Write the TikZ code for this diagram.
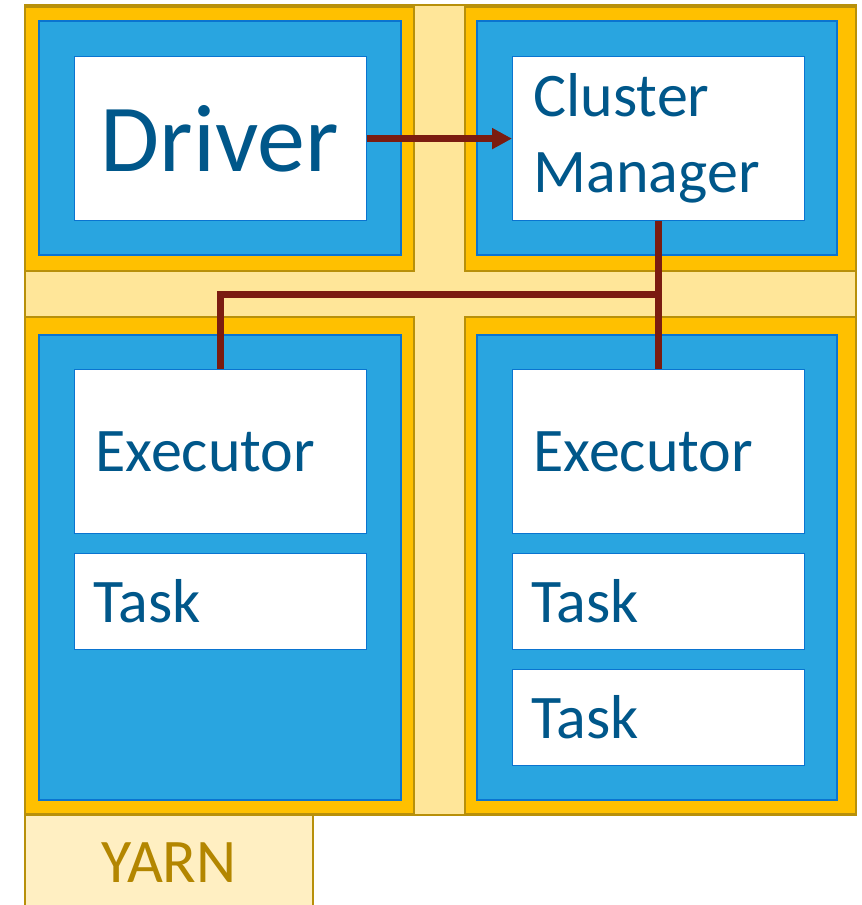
\documentclass[tikz,border=0pt]{standalone}
\usepackage{fontspec}
\setmainfont{Carlito}
\usetikzlibrary{arrows.meta}
\definecolor{hostgold}{HTML}{FFC000}
\definecolor{yarncream}{HTML}{FFE699}
\definecolor{tabcream}{HTML}{FFEFC2}
\definecolor{goldline}{HTML}{B8900A}
\definecolor{jvmblue}{HTML}{29A5E0}
\definecolor{jvmline}{HTML}{0A74D0}
\definecolor{labelblue}{HTML}{00578A}
\definecolor{linkred}{HTML}{7B1C10}
\definecolor{yarntext}{HTML}{B38600}
\tikzset{
  host/.style={fill=hostgold,draw=goldline,line width=1.2pt},
  jvm/.style={fill=jvmblue,draw=jvmline,line width=1.2pt},
  proc/.style={draw=jvmline,fill=white,line width=1.2pt,anchor=north west,
    text width=250pt,inner xsep=21pt,inner ysep=0pt,align=left,
    text=labelblue,font=\fontsize{62}{76}\selectfont},
  link/.style={draw=linkred,line width=7pt},
}
\begin{document}
\begin{tikzpicture}[x=1pt,y=-1pt]
	\useasboundingbox (0,0) rectangle (862,905);
	% yarn layer
	\filldraw [fill=yarncream,draw=goldline,line width=1.2pt] (25,5) rectangle (856,815);
	\filldraw [fill=tabcream,draw=goldline,line width=1.2pt] (25,815) rectangle (313,906);
	\node [text=yarntext,font=\fontsize{62}{76}\selectfont,anchor=base] (yarn) at (169,882) {YARN};
	% hosts and jvms
	\draw [host] (25,7) rectangle (414,271);
	\draw [host] (465,7) rectangle (856,271);
	\draw [host] (25,317) rectangle (414,814);
	\draw [host] (465,317) rectangle (856,814);
	\draw [jvm] (39,21) rectangle (401,255);
	\draw [jvm] (477,21) rectangle (837,255);
	\draw [jvm] (39,335) rectangle (401,800);
	\draw [jvm] (477,335) rectangle (837,800);
	% processes
	\node [proc,minimum height=164pt,inner xsep=26pt,text width=240pt,font=\fontsize{96}{115}\selectfont] (driver) at (74,56) {Driver};
	\node [proc,minimum height=164pt] (cm) at (512,56) {Cluster\\Manager};
	\node [proc,minimum height=164pt] (exec1) at (74,369) {Executor};
	\node [proc,minimum height=96pt,inner xsep=19pt,text width=254pt] (task1) at (74,553) {Task};
	\node [proc,minimum height=164pt] (exec2) at (512,369) {Executor};
	\node [proc,minimum height=96pt,inner xsep=19pt,text width=254pt] (task2) at (512,553) {Task};
	\node [proc,minimum height=96pt,inner xsep=19pt,text width=254pt] (task3) at (512,669) {Task};
	% links
	\coordinate (hub) at (cm.south |- 0,294);
	\draw [link,-{Triangle[length=20pt,width=20pt]}] (driver.east) -- (cm.west);
	\draw [link] (cm.south) -- (hub) -| (exec1.north);
	\draw [link] (hub) -- (exec2.north);
\end{tikzpicture}
\end{document}
